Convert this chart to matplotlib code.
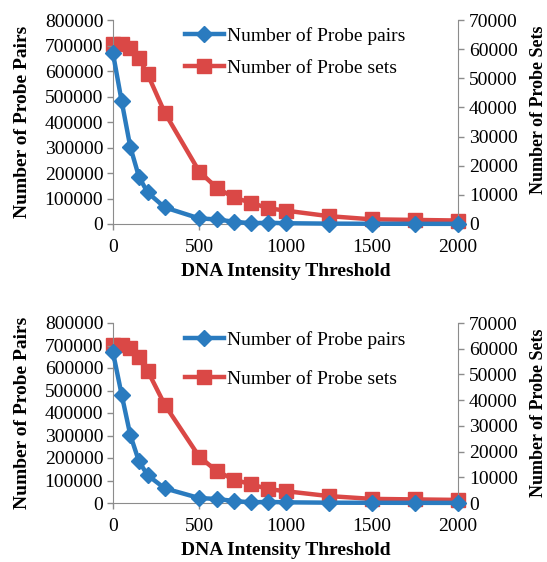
import matplotlib
matplotlib.use("Agg")
import matplotlib.pyplot as plt

plt.rcParams['font.family'] = ['Liberation Serif', 'DejaVu Serif']

thresholds = [0, 50, 100, 150, 200, 300, 500, 600, 700, 800, 900, 1000, 1250, 1500, 1750, 2000]
probe_pairs = [669000, 482000, 303000, 186000, 124000, 65000, 22000, 18000, 9000, 3000, 5000, 3000, 1500, 1000, 700, 500]
probe_sets = [61600, 61600, 60300, 56900, 51500, 38200, 18000, 12500, 9100, 7300, 5400, 4600, 2700, 1600, 1400, 1200]

left_label = "Number of Probe Pairs"
right_label = "Number of Probe Sets"
x_label = "DNA Intensity Threshold"
pairs_name = "Number of Probe pairs"
sets_name = "Number of Probe sets"
left_ticks = [0, 100000, 200000, 300000, 400000, 500000, 600000, 700000, 800000]
right_ticks = [0, 10000, 20000, 30000, 40000, 50000, 60000, 70000]
x_ticks = [0, 500, 1000, 1500, 2000]

BLUE = '#2A7BBF'
RED = '#DA4846'
GRAY = '#8C8C8C'
W, H = 547, 562
FS = 14

fig = plt.figure(figsize=(W / 100, H / 100), dpi=100)


def panel(y_top, y_bot, leg_top, leg_spacing, right_y):
    ax = fig.add_axes([113 / W, 1 - y_bot / H, (458 - 113) / W, (y_bot - y_top) / H])
    ax2 = ax.twinx()
    l1, = ax.plot(thresholds, probe_pairs, color=BLUE, lw=3.2, marker='D', ms=8,
                  clip_on=False, zorder=3, label=pairs_name)
    l2, = ax2.plot(thresholds, probe_sets, color=RED, lw=3.2, marker='s', ms=10,
                   clip_on=False, zorder=2, label=sets_name)
    ax.set_zorder(ax2.get_zorder() + 1)
    ax.patch.set_visible(False)
    ax.set_xlim(0, 2000)
    ax.set_ylim(0, 800000)
    ax2.set_ylim(0, 70000)
    ax.set_xticks(x_ticks)
    ax.set_yticks(left_ticks)
    ax2.set_yticks(right_ticks)
    ax.set_xticklabels([str(v) for v in x_ticks])
    ax.set_yticklabels([str(v) for v in left_ticks])
    ax2.set_yticklabels([str(v) for v in right_ticks])
    for a in (ax, ax2):
        for s in a.spines.values():
            s.set_visible(False)
        a.tick_params(labelsize=FS, color=GRAY, length=4, width=1)
    ax.spines['left'].set_visible(True)
    ax.spines['left'].set_color(GRAY)
    ax.spines['bottom'].set_visible(True)
    ax.spines['bottom'].set_color(GRAY)
    ax2.spines['right'].set_visible(True)
    ax2.spines['right'].set_color(GRAY)
    ax.tick_params(axis='x', pad=7)
    ax.tick_params(axis='y', pad=3)
    ax2.tick_params(axis='y', pad=4)
    ax.set_xlabel(x_label, fontsize=FS, fontweight='bold', labelpad=5)
    ax.set_ylabel(left_label, fontsize=FS, fontweight='bold')
    ax2.set_ylabel(right_label, fontsize=13, fontweight='bold')
    ax.yaxis.set_label_coords((31 - 113) / 345, 0.5)
    ax2.yaxis.set_label_coords((530 - 113) / 345, right_y)
    fig.legend([l1, l2], [pairs_name, sets_name], loc='upper left',
               bbox_to_anchor=(185 / W, 1 - leg_top / H), frameon=False,
               borderpad=0, borderaxespad=0, handlelength=2.0, handletextpad=0.15,
               labelspacing=leg_spacing, fontsize=FS, markerscale=1.0)
    return ax, ax2


panel(20, 224, 27, 0.75, 0.56)
panel(323, 503, 331, 1.1, 0.5)

fig.savefig("out.png", dpi=100)
